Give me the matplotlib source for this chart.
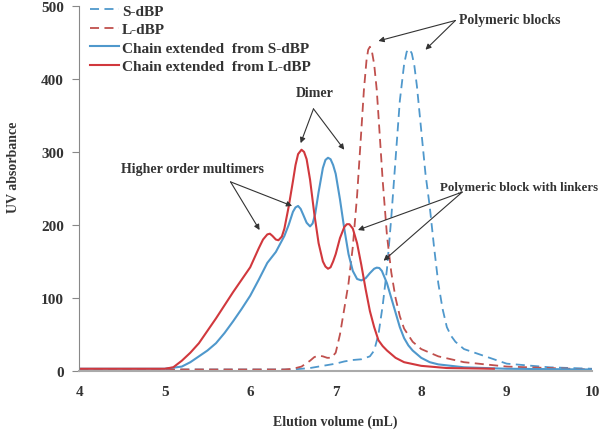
import matplotlib
matplotlib.use("Agg")
import matplotlib.pyplot as plt

# elution volume (mL) vs UV absorbance
s_dbp_x = [4.0, 6.5, 6.7, 6.9, 7.0, 7.1, 7.2, 7.3, 7.4, 7.45, 7.5, 7.55, 7.6, 7.65, 7.7, 7.75,
           7.8, 7.83, 7.86, 7.89, 7.92, 7.95, 8.0, 8.05, 8.1, 8.15, 8.2, 8.25, 8.3, 8.35, 8.4,
           8.5, 8.7, 9.0, 9.5, 10.0]
s_dbp_y = [2, 2, 4, 8, 10, 13, 15, 16, 20, 28, 50, 90, 140, 210, 290, 370,
           420, 437, 441, 435, 418, 390, 330, 270, 225, 170, 120, 85, 60, 48, 40,
           30, 22, 10, 5, 3]

l_dbp_x = [4.0, 6.4, 6.5, 6.6, 6.7, 6.75, 6.8, 6.85, 6.9, 6.95, 7.0, 7.05, 7.1, 7.15, 7.2, 7.25,
           7.3, 7.33, 7.36, 7.38, 7.4, 7.42, 7.45, 7.48, 7.5, 7.55, 7.6, 7.65, 7.7, 7.75, 7.8,
           7.9, 8.0, 8.2, 8.5, 9.0, 10.0]
l_dbp_y = [2, 2, 3, 6, 14, 19, 21, 20, 18, 18, 25, 50, 85, 120, 170, 240,
           330, 385, 425, 440, 444, 440, 420, 385, 350, 260, 185, 135, 100, 75, 58,
           40, 30, 20, 12, 6, 2]

chain_s_x = [4.0, 5.0, 5.2, 5.3, 5.4, 5.5, 5.6, 5.7, 5.8, 5.9, 6.0, 6.1, 6.2, 6.3, 6.4, 6.45,
             6.5, 6.53, 6.56, 6.59, 6.62, 6.66, 6.7, 6.73, 6.76, 6.8, 6.85, 6.88, 6.91, 6.94,
             6.97, 7.0, 7.05, 7.1, 7.15, 7.2, 7.25, 7.3, 7.35, 7.4, 7.45, 7.48, 7.51, 7.54,
             7.6, 7.65, 7.7, 7.75, 7.8, 7.85, 7.9, 8.0, 8.1, 8.2, 8.5, 9.0, 10.0]
chain_s_y = [3, 3, 6, 12, 20, 28, 38, 52, 68, 85, 103, 125, 148, 163, 185, 200,
             218, 224, 226, 222, 214, 203, 198, 202, 215, 245, 278, 289, 292, 290,
             282, 270, 235, 195, 160, 137, 126, 124, 127, 134, 140, 141.5, 141, 137,
             120, 100, 80, 60, 45, 35, 28, 18, 12, 9, 5, 3, 2]

chain_l_x = [4.0, 5.0, 5.1, 5.2, 5.3, 5.4, 5.5, 5.6, 5.7, 5.8, 5.9, 6.0, 6.1, 6.15, 6.2, 6.23,
             6.26, 6.3, 6.33, 6.37, 6.4, 6.45, 6.5, 6.53, 6.56, 6.6, 6.63, 6.66, 6.7, 6.75,
             6.8, 6.85, 6.88, 6.91, 6.94, 6.97, 7.0, 7.05, 7.1, 7.13, 7.16, 7.2, 7.25, 7.3,
             7.35, 7.4, 7.45, 7.5, 7.55, 7.6, 7.7, 7.8, 8.0, 8.3, 8.85]
chain_l_y = [3, 3, 5, 14, 25, 38, 55, 72, 90, 108, 125, 142, 168, 180, 187, 188,
             185, 180, 179, 184, 195, 225, 260, 282, 297, 303, 300, 290, 262, 215,
             175, 150, 143, 140, 142, 150, 160, 182, 197, 201, 201, 195, 175, 145,
             112, 82, 60, 42, 34, 28, 18, 12, 7, 4, 3]

BLUE = '#4F98CC'
RED_DASH = '#C0504D'
RED = '#D1383D'
TEXT = '#333333'
FONT = 'Liberation Serif'

plt.rcParams['font.family'] = FONT
plt.rcParams['font.weight'] = 'bold'

fig = plt.figure(figsize=(6.0, 4.31), dpi=100)
ax = fig.add_axes([0.132, 0.137, 0.855, 0.847])

ax.plot(s_dbp_x, s_dbp_y, color=BLUE, lw=1.3, ls=(0, (5, 3)), label='S-dBP')
ax.plot(l_dbp_x, l_dbp_y, color=RED_DASH, lw=1.3, ls=(0, (5, 3)), label='L-dBP')
ax.plot(chain_s_x, chain_s_y, color=BLUE, lw=1.5, label='Chain extended  from S-dBP')
ax.plot(chain_l_x, chain_l_y, color=RED, lw=1.5, label='Chain extended  from L-dBP')

ax.set_xlim(4, 10)
ax.set_ylim(0, 500)
ax.set_xticks(range(4, 11))
ax.set_yticks(range(0, 501, 100))
ax.tick_params(axis='x', length=0, pad=10, labelsize=11, labelcolor=TEXT)
ax.tick_params(axis='y', length=5, direction='out', color='#888888', labelsize=11,
               labelcolor=TEXT, pad=6)
for side in ['top', 'right']:
    ax.spines[side].set_visible(False)
ax.spines['left'].set_color('#888888')
ax.spines['bottom'].set_color('#aaaaaa')
ax.spines['bottom'].set_linewidth(1.5)

ax.set_xlabel('Elution volume (mL)', fontsize=10, fontweight='bold', color=TEXT)
ax.xaxis.set_label_coords(0.5, -0.118)
ax.set_ylabel('UV absorbance', fontsize=10, fontweight='bold', color=TEXT)
ax.yaxis.set_label_coords(-0.115, 0.56)

ax.legend(loc='upper left', bbox_to_anchor=(0.0, 1.035), frameon=False, fontsize=11,
          handlelength=1.9, handletextpad=0.2, labelspacing=0.32, borderaxespad=0.3,
          labelcolor=TEXT)

arrow = dict(arrowstyle='-|>', color='#333333', lw=0.8, mutation_scale=8, shrinkA=0, shrinkB=0)

ax.text(9.03, 482, 'Polymeric blocks', fontsize=10, ha='center', va='center', color=TEXT)
for tip in [(7.50, 452), (8.05, 440)]:
    ax.annotate('', xy=tip, xytext=(8.40, 480), arrowprops=arrow)

ax.text(6.75, 382, 'Dimer', fontsize=10, ha='center', va='center', color=TEXT)
for tip in [(6.59, 312), (7.10, 303)]:
    ax.annotate('', xy=tip, xytext=(6.74, 359), arrowprops=arrow)

ax.text(5.32, 277, 'Higher order multimers', fontsize=10, ha='center', va='center', color=TEXT)
for tip in [(6.11, 193), (6.49, 226)]:
    ax.annotate('', xy=tip, xytext=(5.77, 259), arrowprops=arrow)

ax.text(9.15, 252, 'Polymeric block with linkers', fontsize=9.3, ha='center', va='center',
        color=TEXT)
for tip in [(7.26, 193), (7.56, 151)]:
    ax.annotate('', xy=tip, xytext=(8.48, 245), arrowprops=arrow)

fig.savefig('out.png', dpi=100)
